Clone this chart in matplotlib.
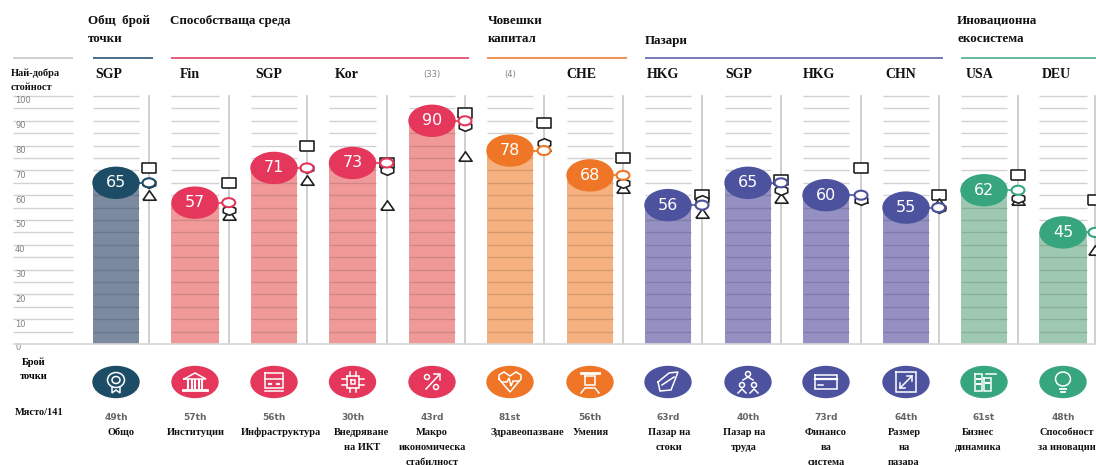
import matplotlib
matplotlib.use('Agg')
import matplotlib.pyplot as plt
from matplotlib.patches import Ellipse

# values
names = ['Общо', 'Институции', 'Инфраструктура', 'Внедряване\nна ИКТ',
         'Макро\nикономическа\nстабилност', 'Здравеопазване', 'Умения',
         'Пазар на\nстоки', 'Пазар на\nтруда', 'Финансо\nва\nсистема',
         'Размер\nна\nпазара', 'Бизнес\nдинамика', 'Способност\nза иновации']
scores = [65, 57, 71, 73, 90, 78, 68, 56, 65, 60, 55, 62, 45]
best = [71, 65, 80, 73, 93, 89, 75, 60, 66, 71, 60, 68, 58]
group_avg = [65, 54, 71, 70, 88, 81, 65, 58, 62, 58, 55, 59, 45]
region_avg = [60, 52, 66, 56, 76, 80, 63, 53, 59, 59, 57, 58, 38]
best_codes = ['SGP', 'Fin', 'SGP', 'Kor', '(33)', '(4)', 'CHE', 'HKG', 'SGP', 'HKG', 'CHN', 'USA', 'DEU']
ranks = ['49th', '57th', '56th', '30th', '43rd', '81st', '56th', '63rd', '40th', '73rd', '64th', '61st', '48th']
groups = [0, 1, 1, 1, 1, 2, 2, 3, 3, 3, 3, 4, 4]
ticks = [0, 10, 20, 30, 40, 50, 60, 70, 80, 90, 100]

# layout, in pixels of the 1096x465 picture
bar_left = [93, 171, 251, 329, 409, 487, 567, 645, 725, 803, 883, 961, 1039]
bar_right = [139, 219, 297, 376, 455, 533, 613, 691, 771, 849, 929, 1007, 1087]
stem_x = [149, 228.7, 307, 386.7, 465, 544, 623, 702, 781, 861, 938.6, 1018, 1095]
code_x = [95, 180, 255, 335, 432, 510, 566, 647, 725, 803, 885, 966, 1042]
label_x = [121, 196, 281, 362, 432, 527, 591, 669.5, 744, 826, 904, 978, 1067]
dark = ['#1d4d66', '#e4375b', '#ee7626', '#4d529e', '#37a57e']
light = ['#7b8a9f', '#ef9a98', '#f5b280', '#9491c2', '#9ec9b0']
head_lines = [(13, 73, '#cccccc'), (93, 153, '#3d6580'), (171, 469, '#e4506e'),
              (487, 627, '#f08a45'), (645, 943, '#6a6db0'), (961, 1096, '#5ab592')]
serif = 'Liberation Serif'
sans = 'DejaVu Sans'
grid = '#d2d2d2'

# the reference is stretched sideways, so the markers are too
wide_square = [(-1.25, -1), (1.25, -1), (1.25, 1), (-1.25, 1), (-1.25, -1)]
wide_triangle = [(-1.4, -1), (1.4, -1), (0, 1), (-1.4, -1)]
wide_hexagon = [(-1.3, .45), (0, 1), (1.3, .45), (1.3, -.45), (0, -1), (-1.3, -.45), (-1.3, .45)]


def py(p):
    # pixel row -> score
    return (344 - p) / 2.48


fig = plt.figure(figsize=(10.96, 4.65), dpi=100)
ax = fig.add_axes([0, 0, 1, 1])
ax.set_xlim(0, 1096)
ax.set_ylim(py(465), py(0))
ax.axis('off')


def head(x, p, s, size=9.4):
    ax.text(x, py(p), s, family=serif, weight='bold', fontsize=size, va='center', color='#111111')


for a, b, c in head_lines:
    ax.plot([a, b], [py(58)] * 2, color=c, lw=1.3, solid_capstyle='butt')

head(88, 21, 'Общ  брой')
head(88, 39, 'точки')
head(170, 21, 'Способстваща среда')
head(488, 21, 'Човешки')
head(488, 39, 'капитал')
head(645, 41, 'Пазари')
head(957, 21, 'Иновационна')
head(957, 39, 'екосистема')
head(11, 73, 'Най-добра', 7.5)
head(11, 88, 'стойност', 7.5)
ax.text(34, py(362), 'Брой', family=serif, weight='bold', fontsize=7.5, ha='center', va='center')
ax.text(34, py(376), 'точки', family=serif, weight='bold', fontsize=7.5, ha='center', va='center')
head(15, 412, 'Място/141', 7.5)

# left scale
levels = list(range(5, 105, 5))
ax.hlines(levels, 13, 73, color=grid, lw=1, zorder=1)
for t in ticks:
    ax.text(15, t - 2 if t else -1.6, str(t), family=sans, fontsize=6, color='#808080', va='center')
ax.hlines(0, 13, 1096, color='#d5d5d5', lw=1.2, zorder=4)

for i in range(len(scores)):
    l, r = bar_left[i], bar_right[i]
    cx = (l + r) / 2
    g = groups[i]
    sx = stem_x[i]
    ax.hlines(levels, l, r, color=grid, lw=1, zorder=1)
    ax.bar(cx, scores[i], r - l, color=light[g], zorder=2)
    below = [v for v in levels if v < scores[i]]
    ax.hlines(below, l, r, color='#000000', alpha=0.13, lw=1, zorder=3)
    ax.plot([sx, sx], [0, 100], color='#cccccc', lw=1.3, zorder=1)
    ax.plot([cx, sx], [scores[i]] * 2, color=dark[g], lw=1.2, zorder=3)
    ax.add_patch(Ellipse((cx, scores[i]), 46, 31 / 2.48, color=dark[g], zorder=5))
    ax.text(cx, scores[i], str(scores[i]), family=sans, color='white', fontsize=11.5,
            ha='center', va='center', zorder=6)
    ax.plot(sx, best[i], marker=wide_square, ms=9.5, mfc='white', mec='#222222', mew=1.2, zorder=6, clip_on=False)
    ax.plot(sx, region_avg[i], marker=wide_triangle, ms=9.5, mfc='white', mec='#222222', mew=1.2, zorder=6, clip_on=False)
    ax.plot(sx, group_avg[i], marker=wide_hexagon, ms=9, mfc='white', mec='#222222', mew=1.2, zorder=7, clip_on=False)
    ax.add_patch(Ellipse((sx, scores[i]), 13, 9 / 2.48, fc='white', ec=dark[g], lw=1.5, zorder=8, clip_on=False))

    if best_codes[i].startswith('('):
        ax.text(code_x[i], py(75), best_codes[i], family=sans, fontsize=6, color='#808080', ha='center', va='center')
    else:
        ax.text(code_x[i], py(75), best_codes[i], family=serif, weight='bold', fontsize=10, va='center', color='#111111')
    ax.add_patch(Ellipse((cx, py(382)), 46, 31 / 2.48, color=dark[g], zorder=5))
    ax.text(cx, py(417), ranks[i], family=sans, weight='bold', fontsize=6.5, color='#666666', ha='center', va='center')
    for n, row in enumerate(names[i].split('\n')):
        ax.text(label_x[i], py(432 + n * 15), row, family=serif, weight='bold', fontsize=7.5,
                ha='center', va='center', color='#111111')


def ic(i, xs, ys, lw=1.1):
    # small white line icon, offsets in pixels from the centre of badge i
    cx = (bar_left[i] + bar_right[i]) / 2
    ax.plot([cx + v for v in xs], [py(382 + v) for v in ys], color='white', lw=lw, zorder=6,
            solid_joinstyle='miter')


def box(i, x0, y0, w, h):
    ic(i, [x0, x0 + w, x0 + w, x0, x0], [y0, y0, y0 + h, y0 + h, y0])


def ring(i, dx, dy, w, h):
    cx = (bar_left[i] + bar_right[i]) / 2
    ax.add_patch(Ellipse((cx + dx, py(382 + dy)), w, h / 2.48, fc='none', ec='white', lw=1.1, zorder=6))


ring(0, 0, -2, 17, 15)
ring(0, 0, -2, 8, 7)
ic(0, [-4, -4, 0, 4, 4], [5, 11, 8, 11, 5])
ic(1, [-11, 0, 11, -11], [-3, -9, -3, -3])
for d in [-7, -3.5, 0, 3.5, 7]:
    ic(1, [d, d], [-2, 6], 1.5)
ic(1, [-12, 12], [8, 8], 2)
box(2, -9, -9, 18, 15)
ic(2, [-9, 9], [-3, -3])
ic(2, [-5, -3], [2, 2], 1.6)
ic(2, [3, 5], [2, 2], 1.6)
ic(2, [-9, 9], [9, 9])
box(3, -6, -6, 12, 12)
box(3, -2, -2, 4, 4)
for d in [-3, 3]:
    ic(3, [d, d], [-10, -6])
    ic(3, [d, d], [6, 10])
    ic(3, [-11, -6], [d, d])
    ic(3, [6, 11], [d, d])
ic(4, [-6, 7], [7, -7])
ic(4, [2, 8, 8], [-8, -8, -2])
ring(4, -5, -5, 5, 5)
ring(4, 4, 5, 5, 5)
ic(5, [-11, -11, -6, 0, 6, 11, 11, 0, -11], [-3, -7, -10, -6, -10, -7, -3, 10, -3])
ic(5, [-8, -3, -1, 1, 3, 8], [0, 0, -4, 4, -1, -1])
ic(6, [-9, 9], [-9, -9], 2)
box(6, -5, -6, 10, 9)
ic(6, [-9, -5, 5, 9], [11, 6, 6, 11])
ic(7, [-10, 1, 10, 3, -8, -10], [0, -9, -10, 8, 9, 0])
ic(7, [-6, 6], [3, -5])
ring(8, 0, -8, 5, 5)
ring(8, -6, 3, 5, 5)
ring(8, 6, 3, 5, 5)
ic(8, [-10, -6, -2], [11, 7, 11])
ic(8, [2, 6, 10], [11, 7, 11])
ic(8, [-5, 0, 5], [-2, -5, -2])
box(9, -11, -7, 22, 14)
ic(9, [-11, 11], [-3, -3], 1.6)
ic(9, [-8, -3], [3, 3])
box(10, -10, -10, 20, 20)
ic(10, [-6, 6], [6, -6])
ic(10, [1, 6, 6], [-6, -6, -1])
ic(10, [-6, -6, -1], [1, 6, 6])
box(11, -9, -8, 7, 17)
box(11, 0, -4, 7, 13)
ic(11, [-7, -4], [-3, -3], 1.5)
ic(11, [-7, -4], [2, 2], 1.5)
ic(11, [2, 5], [1, 1], 1.5)
ic(11, [2, 12], [-8, -8])
ring(12, 0, -3, 15, 14)
ic(12, [-3, 3], [7, 7], 1.3)
ic(12, [-2, 2], [10, 10], 1.3)

fig.savefig('out.png', dpi=100)
